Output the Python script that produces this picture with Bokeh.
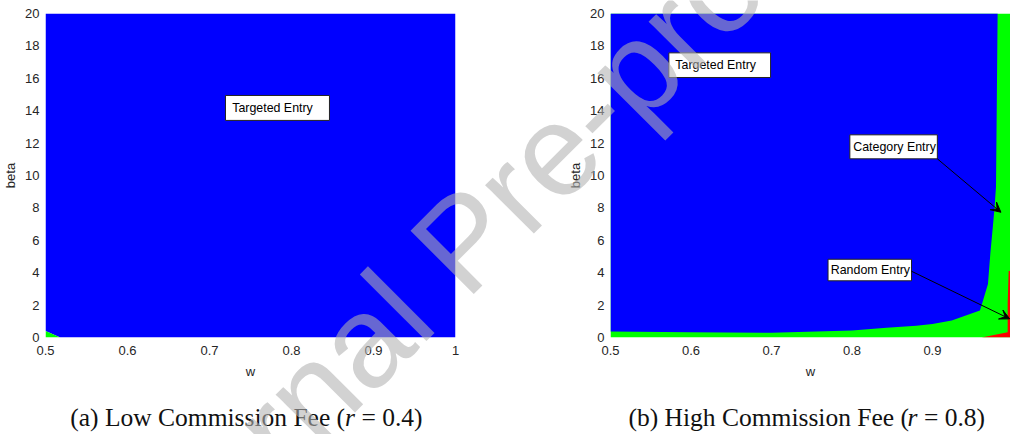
from bokeh.plotting import figure
from bokeh.models import Label, Arrow, VeeHead, FixedTicker, Range1d, GridBox
from bokeh.layouts import row, column
from bokeh.core.properties import value
from bokeh.embed import file_html
from bokeh.resources import INLINE

# ---------------- data ----------------
x_ticks = [0.5, 0.6, 0.7, 0.8, 0.9, 1.0]
x_tick_labels = ["0.5", "0.6", "0.7", "0.8", "0.9", "1"]
y_ticks = [0, 2, 4, 6, 8, 10, 12, 14, 16, 18, 20]

# (a) low commission fee r = 0.4
a_targeted_w = [0.5, 0.507, 0.518, 1.0, 1.0, 0.5]
a_targeted_beta = [0.4, 0.25, 0.0, 0.0, 20.0, 20.0]
a_category_w = [0.5, 0.5, 0.507, 0.518]
a_category_beta = [0.0, 0.4, 0.25, 0.0]

# (b) high commission fee r = 0.8
b_category_w = [0.5, 1.0, 1.0, 0.5]
b_category_beta = [0.0, 0.0, 20.0, 20.0]
b_targeted_w = [0.5, 0.6, 0.7, 0.8, 0.843, 0.88, 0.9, 0.924, 0.959, 0.961,
                0.969, 0.972, 0.975, 0.977, 0.979, 0.980, 0.981, 0.5]
b_targeted_beta = [0.37, 0.33, 0.29, 0.43, 0.6, 0.72, 0.84, 1.05, 1.67, 1.98,
                   3.3, 5.2, 6.8, 7.9, 9.3, 14.6, 20.0, 20.0]
b_random_w = [0.961, 0.9935, 0.9935, 0.9947, 1.0, 1.0]
b_random_beta = [0.0, 0.33, 2.15, 4.1, 4.1, 0.0]

# text boxes: label, left, right, bottom, top
a_box_text = ["Targeted Entry"]
a_box_left = [0.7195]
a_box_right = [0.8463]
a_box_bottom = [13.40]
a_box_top = [14.94]
a_text_x = [0.7277]

b_box_text = ["Targeted Entry", "Category Entry", "Random Entry"]
b_box_left = [0.5725, 0.7974, 0.7703]
b_box_right = [0.6989, 0.9061, 0.8740]
b_box_bottom = [16.05, 11.03, 3.50]
b_box_top = [17.57, 12.51, 4.83]
b_text_x = [0.5806, 0.8016, 0.7737]

# arrows (start -> end) in panel (b)
b_arrow_w0 = [0.9061, 0.8740]
b_arrow_b0 = [11.03, 4.09]
b_arrow_w1 = [0.9851, 0.9960]
b_arrow_b1 = [7.73, 1.15]

# captions
cap_a = ["(a) Low Commission Fee (", "r", "= 0.4)"]
cap_b = ["(b) High Commission Fee (", "r", "= 0.8)"]

BLUE = "#0000ff"
GREEN = "#00ff00"
RED = "#ff0000"
TICK_COLOR = "#262626"

H = 434


def style(p, xt):
    p.outline_line_color = None
    p.xgrid.visible = False
    p.ygrid.visible = False
    p.xaxis.ticker = FixedTicker(ticks=xt)
    p.xaxis.major_label_overrides = {t: l for t, l in zip(x_ticks, x_tick_labels)}
    p.yaxis.ticker = FixedTicker(ticks=y_ticks)
    for ax in (p.xaxis[0], p.yaxis[0]):
        ax.axis_line_color = None
        ax.major_tick_line_color = None
        ax.minor_tick_line_color = None
        ax.major_tick_out = 0
        ax.major_tick_in = 0
        ax.major_label_text_font = "Liberation Sans"
        ax.major_label_text_font_size = "13px"
        ax.major_label_text_color = TICK_COLOR
        ax.axis_label_text_font = "Liberation Sans"
        ax.axis_label_text_font_size = "13px"
        ax.axis_label_text_font_style = "normal"
        ax.axis_label_text_color = TICK_COLOR
    p.xaxis.major_label_standoff = 8
    p.yaxis.major_label_standoff = 6
    p.xaxis.axis_label_standoff = 6
    p.yaxis.axis_label_standoff = 4
    p.xaxis.axis_label = "w"
    p.yaxis.axis_label = "beta"


def boxes(p, txt, l, r, b, t, tx):
    p.quad(left=l, right=r, bottom=b, top=t, fill_color="white",
           line_color="#222222", line_width=1)
    p.text(x=tx, y=[(bb + tt) / 2 for bb, tt in zip(b, t)], text=txt,
           text_font=value("Liberation Sans"), text_font_size="12.4px",
           text_color="black", text_baseline="middle", text_align="left")


# ---------------- panel (a) ----------------
pa = figure(width=512, height=H, x_range=Range1d(0.5, 1.0), y_range=Range1d(0, 20),
            output_backend="svg", toolbar_location=None,
            min_border_left=37, min_border_right=57, min_border_top=13, min_border_bottom=97)
style(pa, x_ticks)
pa.patch(a_targeted_w, a_targeted_beta, fill_color=BLUE, line_color=None)
pa.patch(a_category_w, a_category_beta, fill_color=GREEN, line_color=None)
boxes(pa, a_box_text, a_box_left, a_box_right, a_box_bottom, a_box_top, a_text_x)

# ---------------- panel (b) ----------------
pb = figure(width=498, height=H, x_range=Range1d(0.5, 0.997), y_range=Range1d(0, 20),
            output_backend="svg", toolbar_location=None,
            min_border_left=98, min_border_right=0, min_border_top=13, min_border_bottom=97)
style(pb, x_ticks[:-1])
pb.patch(b_category_w, b_category_beta, fill_color=GREEN, line_color=None)
pb.patch(b_targeted_w, b_targeted_beta, fill_color=BLUE, line_color=None)
pb.patch(b_random_w, b_random_beta, fill_color=RED, line_color=None)
boxes(pb, b_box_text, b_box_left, b_box_right, b_box_bottom, b_box_top, b_text_x)
for w0, b0, w1, b1 in zip(b_arrow_w0, b_arrow_b0, b_arrow_w1, b_arrow_b1):
    pb.add_layout(Arrow(end=VeeHead(size=10, fill_color="black", line_color="black"),
                        x_start=w0, y_start=b0, x_end=w1, y_end=b1,
                        line_color="black", line_width=1))

# ---------------- transparent overlay: captions + watermark ----------------
ov = figure(width=1010, height=H, x_range=Range1d(0, 1010), y_range=Range1d(H, 0),
            x_axis_location=None, y_axis_location=None,
            output_backend="svg", toolbar_location=None, min_border=0,
            border_fill_color=None, background_fill_color=None, outline_line_color=None)
ov.grid.visible = False


def caption(xs, parts, y):
    styles = ["normal", "italic", "normal"]
    for x, t, s in zip(xs, parts, styles):
        ov.add_layout(Label(x=x, y=y, text=t, text_font="Liberation Serif",
                            text_font_size="25.5px", text_font_style=s, text_color="#111111",
                            text_align="left", text_baseline="alphabetic"))


caption([69.8, 344.6, 360.9], cap_a, 417)
caption([628.0, 907.1, 923.4], cap_b, 417)
ov.add_layout(Label(x=462, y=241, text="Journal Pre-proof", angle=45, angle_units="deg",
                    text_font="Liberation Sans", text_font_size="130px",
                    text_color="#b1b1b1", text_alpha=0.58,
                    text_align="center", text_baseline="alphabetic", level="overlay"))

panels = row(pa, pb)
overlay = column(ov)
layout = GridBox(children=[(panels, 0, 0), (overlay, 0, 0)])
open("out.html", "w").write(file_html(layout, INLINE))
